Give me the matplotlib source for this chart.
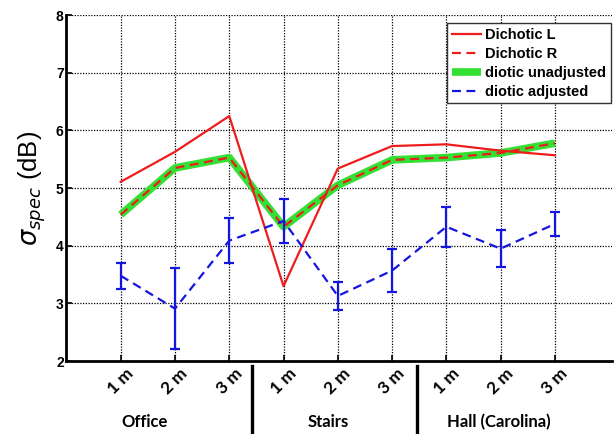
import matplotlib
matplotlib.use("Agg")
import matplotlib.pyplot as plt
import matplotlib.transforms as mtransforms
from matplotlib.lines import Line2D

# ---- data ----
tick_labels = ["1 m", "2 m", "3 m", "1 m", "2 m", "3 m", "1 m", "2 m", "3 m"]
groups = ["Office", "Stairs", "Hall (Carolina)"]
group_centers = [1.44, 4.82, 7.97]
separators = [3.42, 6.45]

dichotic_L = [5.11, 5.63, 6.25, 3.30, 5.34, 5.73, 5.76, 5.65, 5.57]
dichotic_R = [4.54, 5.35, 5.53, 4.33, 5.05, 5.49, 5.53, 5.61, 5.78]
diotic_unadj = [4.54, 5.35, 5.53, 4.33, 5.05, 5.49, 5.53, 5.61, 5.78]
diotic_adj = [3.48, 2.91, 4.09, 4.43, 3.13, 3.57, 4.33, 3.95, 4.38]
diotic_adj_err = [0.23, 0.70, 0.39, 0.38, 0.24, 0.37, 0.35, 0.32, 0.21]

x = list(range(1, len(tick_labels) + 1))

fig = plt.figure(figsize=(6.15, 4.34), dpi=100)
ax = fig.add_axes([0.108, 0.168, 0.887, 0.797])

green = "#33e033"
red = "#ee1c1c"
blue = "#1515e0"
dash = (0, (4, 2.5))

ax.plot(x, diotic_unadj, color=green, lw=5.5, solid_capstyle="butt", zorder=3)
ax.plot(x, dichotic_L, color=red, lw=1.6, zorder=4)
ax.plot(x, dichotic_R, color=red, lw=1.6, ls=dash, zorder=5)
ax.errorbar(x, diotic_adj, yerr=diotic_adj_err, color=blue, lw=1.6,
            ls=dash, elinewidth=1.6, capsize=3.5, capthick=1.6, zorder=6)

ax.set_xlim(0, 10.05)
ax.set_ylim(2, 8)
ax.set_xticks(x)
ax.set_xticklabels(tick_labels, rotation=45, ha="center",
                   fontfamily="Lato", fontweight="bold", fontsize=12.5)
ax.set_yticks(range(2, 9))
ax.set_yticklabels([str(v) for v in range(2, 9)],
                   fontfamily="Liberation Sans", fontweight="bold", fontsize=10)
ax.tick_params(axis="both", direction="in", length=4, width=1.2, color="black")
ax.tick_params(axis="x", pad=3)
ax.tick_params(axis="y", pad=2)

ax.grid(True, ls=(0, (1, 1.2)), color="black", lw=0.9)
ax.set_axisbelow(True)
for s in ["top", "right"]:
    ax.spines[s].set_visible(False)
for s in ["left", "bottom"]:
    ax.spines[s].set_linewidth(2)
    ax.spines[s].set_color("black")

plt.rcParams["mathtext.fontset"] = "stix"
ax.set_ylabel(r"$\sigma_{spec}$ (dB)", fontsize=18.5, fontfamily="Liberation Sans",
              labelpad=6)

order = ["Dichotic L", "Dichotic R", "diotic unadjusted", "diotic adjusted"]
handles = [
    Line2D([], [], color=red, lw=1.6),
    Line2D([], [], color=red, lw=1.6, ls=dash),
    Line2D([], [], color=green, lw=5.5, solid_capstyle="butt"),
    Line2D([], [], color=blue, lw=1.6, ls=dash),
]
leg = ax.legend(handles, order, loc="upper right",
                bbox_to_anchor=(1.003, 0.985),
                prop={"family": "Liberation Sans", "weight": "bold", "size": 10.5},
                frameon=True, fancybox=False, edgecolor="#333333",
                framealpha=1, handlelength=2.0, handletextpad=0.3,
                borderpad=0.3, labelspacing=0.35, borderaxespad=0.2)
leg.get_frame().set_linewidth(1.0)
leg.set_zorder(10)

trans = mtransforms.blended_transform_factory(ax.transData, fig.transFigure)
for sx in separators:
    ax.plot([sx, sx], [0.157, 0.0], transform=trans, color="black", lw=2.4,
            clip_on=False)
for gx, g in zip(group_centers, groups):
    ax.text(gx, 0.027, g, transform=trans, ha="center", va="center",
            fontfamily="Lato", fontweight="bold", fontsize=12)

fig.savefig("out.png", dpi=100)
